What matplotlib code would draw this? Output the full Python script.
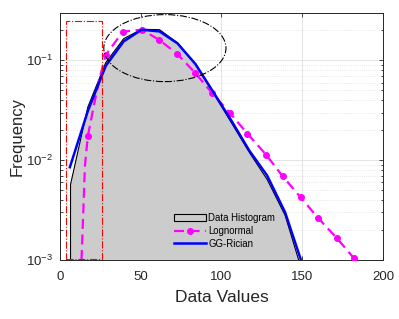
import matplotlib
matplotlib.use("Agg")
import matplotlib.pyplot as plt
import matplotlib.patches as mpatches
from matplotlib.ticker import LogLocator, NullFormatter, LogFormatterMathtext
import numpy as np

# ── Data ──────────────────────────────────────────────────────────────────────
hist_x = [6.6, 17.3, 28.4, 39.5, 50.6, 61.7, 72.8, 83.9, 95.0, 106.1, 117.2, 128.3, 139.4, 147.8]
hist_y = [0.0057, 0.034, 0.095, 0.165, 0.205, 0.203, 0.150, 0.091, 0.047, 0.0238, 0.0120, 0.0064, 0.0028, 0.0010]

rician_x = [6.2, 17.3, 28.4, 39.5, 50.6, 61.7, 72.8, 83.9, 95.0, 106.1, 117.2, 128.3, 139.4, 149.2]
rician_y = [0.0085, 0.031, 0.088, 0.155, 0.203, 0.195, 0.148, 0.092, 0.048, 0.025, 0.0125, 0.0070, 0.0030, 0.0010]

logn_x = [13.4, 14.5, 15.5, 17.3, 21.0, 24.8, 28.5, 39.0, 50.8, 61.3, 72.4, 83.6, 94.0, 105.0,
          116.0, 127.5, 138.0, 149.0, 160.0, 171.5, 182.0]
logn_y = [0.0010, 0.0030, 0.0087, 0.0173, 0.035, 0.0687, 0.114, 0.194, 0.203, 0.161, 0.117, 0.0753,
          0.0475, 0.030, 0.0185, 0.0114, 0.00687, 0.00424, 0.00261, 0.00165, 0.00104]
logn_marks = list(range(3, len(logn_x)))
logn_marks.remove(4)
logn_marks.remove(5)

# ── Style ─────────────────────────────────────────────────────────────────────
plt.rcParams.update({
    "font.family": ["Liberation Sans", "DejaVu Sans"],
    "mathtext.fontset": "custom",
    "mathtext.rm": "Liberation Sans",
    "mathtext.it": "Liberation Sans:italic",
    "mathtext.default": "regular",
})
AX_COL = "#262626"

fig = plt.figure(figsize=(3.99, 3.19), dpi=100)
ax = fig.add_axes([0.150, 0.185, 0.810, 0.775])

ax.fill(np.r_[hist_x[0], hist_x, hist_x[-1]], np.r_[1e-5, hist_y, 1e-5],
        facecolor="#cccccc", edgecolor="black", linewidth=0.8, label="Data Histogram", zorder=2)
ax.plot(logn_x, logn_y, color="#ff00ff", linestyle=(0, (4.5, 2.5)), linewidth=1.6,
        marker="o", markersize=4, markevery=logn_marks, label="Lognormal", zorder=3)
ax.plot(rician_x, rician_y, color="#0000ff", linewidth=1.8, label="GG-Rician", zorder=4)

ax.set_yscale("log")
ax.set_xlim(0, 200)
ax.set_ylim(1e-3, 0.3)
ax.set_xticks([0, 50, 100, 150, 200])
ax.yaxis.set_major_locator(LogLocator(base=10, numticks=10))
ax.yaxis.set_major_formatter(LogFormatterMathtext())
ax.yaxis.set_minor_locator(LogLocator(base=10, subs=np.arange(2, 10), numticks=20))
ax.yaxis.set_minor_formatter(NullFormatter())

ax.grid(which="major", color="#e0e0e0", linewidth=0.6, linestyle="-", zorder=0)
ax.grid(which="minor", axis="y", color="#d8d8d8", linewidth=0.5, linestyle=":", zorder=0)
ax.set_axisbelow(True)

ax.tick_params(which="both", direction="in", top=True, right=True, colors=AX_COL,
               labelsize=9.5, width=0.6)
ax.tick_params(which="major", length=3)
ax.tick_params(which="minor", length=1.8)
ax.tick_params(axis="x", pad=8)
ax.tick_params(axis="y", pad=5)
for s in ax.spines.values():
    s.set_color(AX_COL)
    s.set_linewidth(0.7)

ax.set_xlabel("Data Values", fontsize=12.5, color=AX_COL, labelpad=5)
ax.set_ylabel("Frequency", fontsize=12, color=AX_COL, labelpad=1)

# highlight regions
ax.add_patch(mpatches.Ellipse((0.325, 0.857), 0.378, 0.271, transform=ax.transAxes,
                              fill=False, edgecolor="black", linestyle="-.", linewidth=0.8, zorder=5))
ax.add_patch(mpatches.Rectangle((0.0176, 0.004), 0.112, 0.962, transform=ax.transAxes,
                                fill=False, edgecolor="#ff0000", linestyle="-.", linewidth=0.8, zorder=5))

leg = ax.legend(loc="lower left", bbox_to_anchor=(0.34, 0.03), frameon=False, fontsize=6.9,
                handlelength=3.4, handletextpad=0.2, labelspacing=0.3, borderaxespad=0)

fig.savefig("out.png", dpi=100)
